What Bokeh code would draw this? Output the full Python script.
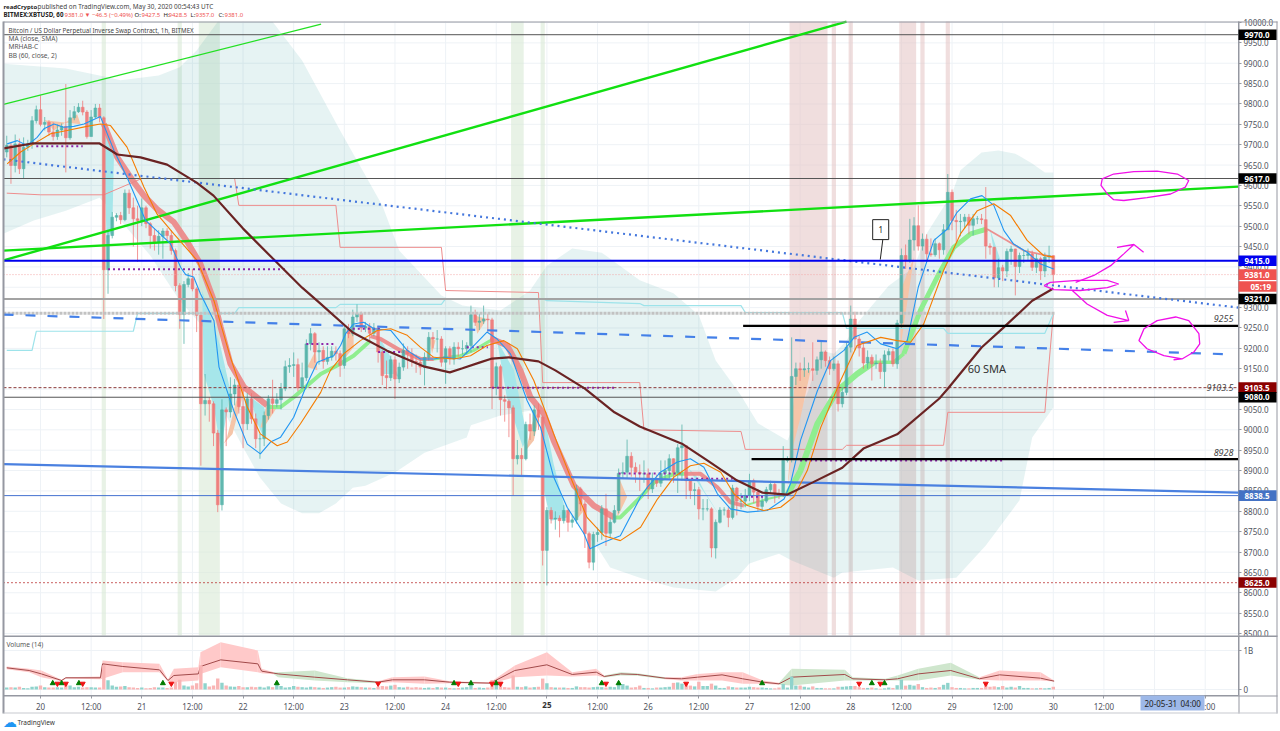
from bokeh.plotting import figure
from bokeh.models import Range1d, FixedTicker, Label, BoxAnnotation, NumeralTickFormatter, LinearAxis
from bokeh.core.properties import value
from bokeh.embed import file_html
from bokeh.resources import INLINE

FIRST_HOUR = -8
close = [
 9698,9649,9702,9641,9694,9702,9759,9786,9750,9755,
 9731,9720,9736,9745,9717,9766,9781,9792,9780,9720,
 9768,9790,9766,9393,9477,9522,9526,9516,9581,9545,
 9518,9514,9545,9506,9477,9462,9475,9488,9477,9440,
 9354,9283,9357,9371,9346,9281,9064,9072,9064,8992,
 8816,9049,9044,9088,9110,9057,9015,9076,9027,8978,
 8978,9035,9076,9065,9074,9101,9155,9158,9160,9103,
 9128,9211,9236,9191,9195,9168,9178,9193,9187,9158,
 9248,9236,9277,9285,9250,9254,9237,9250,9191,9133,
 9128,9172,9125,9154,9195,9187,9168,9166,9154,9178,
 9227,9223,9223,9166,9199,9174,9203,9199,9199,9207,
 9283,9264,9267,9272,9270,9103,9155,9074,9070,9054,
 8929,8937,8929,9013,8997,9049,9031,8704,8802,8781,
 8783,8777,8802,8773,8779,8855,8818,8745,8675,8743,
 8748,8806,8746,8773,8802,8893,8896,8935,8908,8896,
 8892,8892,8855,8877,8869,8893,8900,8929,8896,8956,
 8961,8875,8851,8853,8806,8806,8806,8710,8773,8803,
 8803,8785,8857,8825,8825,8839,8875,8847,8812,8825,
 8853,8866,8843,8841,8925,8929,9131,9150,9147,9150,
 9150,9146,9172,9191,9170,9150,9162,9064,9092,9203,
 9272,9223,9201,9164,9178,9162,9164,9143,9184,9192,
 9162,9262,9428,9416,9466,9501,9451,9468,9432,9430,
 9457,9442,9491,9583,9514,9511,9512,9522,9502,9518,
 9518,9516,9451,9448,9373,9398,9390,9438,9444,9401,
 9428,9428,9432,9399,9420,9390,9424,9427.5,9381]
high = [
 9722,9705,9725,9715,9718,9712,9770,9796,9821,9768,
 9760,9755,9750,9752,9849,9785,9795,9802,9808,9785,
 9785,9800,9800,9770,9490,9535,9532,9535,9590,9590,
 9570,9550,9568,9550,9510,9495,9490,9495,9495,9490,
 9445,9360,9365,9385,9395,9350,9285,9137,9080,9070,
 9000,9075,9055,9129,9125,9125,9100,9090,9090,9040,
 8990,9045,9085,9123,9090,9115,9170,9176,9190,9175,
 9165,9222,9250,9240,9215,9205,9205,9205,9205,9195,
 9255,9260,9295,9308,9290,9265,9262,9262,9255,9195,
 9170,9182,9180,9165,9212,9205,9200,9185,9175,9190,
 9240,9240,9245,9230,9205,9205,9215,9215,9220,9215,
 9305,9295,9285,9305,9285,9275,9165,9160,9085,9075,
 9060,8975,8955,9020,9040,9060,9065,9035,8810,8810,
 8800,8790,8815,8805,8790,8865,8860,8825,8750,8750,
 8760,8815,8843,8785,8815,8905,8920,8976,8945,8920,
 8915,8925,8905,8895,8890,8925,8925,8940,8930,8965,
 9013,8960,8880,8870,8860,8830,8830,8810,8780,8810,
 8810,8810,8865,8860,8845,8855,8892,8880,8855,8835,
 8860,8875,8870,8855,8960,8935,9227,9165,9165,9178,
 9165,9215,9180,9219,9195,9180,9180,9170,9105,9215,
 9305,9290,9230,9215,9195,9185,9185,9175,9195,9200,
 9200,9270,9445,9455,9518,9522,9551,9482,9480,9470,
 9470,9460,9505,9628,9590,9540,9530,9530,9530,9530,
 9525,9530,9596,9458,9450,9420,9405,9445,9452,9445,
 9435,9440,9445,9440,9432,9425,9435,9452,9428.5]
low = [
 9669,9604,9632,9628,9616,9685,9690,9752,9745,9735,
 9722,9710,9712,9722,9632,9712,9760,9778,9772,9715,
 9720,9765,9755,9272,9334,9470,9512,9505,9512,9530,
 9450,9412,9500,9495,9445,9440,9430,9420,9465,9430,
 9340,9248,9211,9350,9340,9240,8912,9035,9020,8960,
 8798,8802,8960,9030,9060,9040,8955,9000,9015,8955,
 8929,8960,9025,9040,9055,9050,9095,9140,9130,9095,
 9100,9120,9195,9165,9160,9150,9160,9170,9170,9130,
 9150,9225,9230,9265,9240,9240,9215,9230,9165,9110,
 9100,9120,9076,9115,9145,9150,9155,9140,9135,9109,
 9170,9200,9190,9155,9113,9160,9160,9180,9185,9185,
 9190,9255,9245,9260,9240,9051,9085,9035,9020,8982,
 8839,8915,8888,8925,8975,8985,9000,8667,8618,8770,
 8755,8736,8770,8750,8760,8770,8800,8710,8660,8655,
 8725,8730,8715,8735,8770,8795,8880,8880,8885,8870,
 8850,8870,8830,8845,8860,8860,8880,8880,8870,8845,
 8875,8830,8830,8815,8780,8778,8800,8687,8684,8770,
 8790,8761,8780,8790,8805,8810,8825,8820,8800,8800,
 8820,8845,8820,8830,8835,8920,8920,9110,9120,9130,
 9140,9120,9135,9150,9155,9135,9145,9045,9055,9085,
 9190,9195,9180,9150,9150,9121,9150,9125,9105,9170,
 9155,9150,9250,9395,9410,9440,9440,9440,9415,9425,
 9425,9420,9430,9495,9490,9460,9475,9495,9480,9477,
 9505,9505,9420,9430,9350,9350,9365,9375,9405,9330,
 9385,9410,9415,9390,9385,9368,9375,9410,9357]
volume = [
 .05,.06,.05,.07,.04,.03,.07,.08,.1,.06,
 .05,.05,.06,.05,.14,.1,.06,.07,.05,.06,
 .06,.05,.05,.62,.24,.1,.07,.08,.09,.06,
 .05,.04,.05,.03,.04,.06,.05,.05,.04,.05,
 .2,.25,.1,.08,.1,.16,.62,.16,.08,.1,
 .28,.17,.1,.08,.07,.09,.06,.06,.07,.06,
 .07,.05,.08,.06,.12,.09,.05,.06,.09,.07,
 .06,.05,.07,.06,.05,.04,.05,.06,.07,.05,
 .05,.06,.08,.07,.06,.05,.05,.04,.07,.09,
 .08,.1,.12,.06,.05,.07,.05,.06,.05,.04,
 .05,.04,.06,.05,.05,.04,.03,.04,.05,.06,
 .2,.04,.05,.04,.05,.24,.18,.2,.06,.05,
 .36,.07,.06,.08,.05,.06,.07,.28,.16,.06,
 .05,.05,.05,.04,.04,.08,.06,.06,.05,.06,
 .07,.06,.05,.07,.06,.14,.14,.1,.05,.06,
 .1,.04,.04,.03,.05,.05,.06,.07,.17,.18,
 .15,.12,.1,.08,.2,.09,.09,.15,.1,.04,
 .04,.08,.06,.05,.05,.05,.07,.06,.05,.05,
 .04,.03,.03,.05,.14,.05,.33,.1,.1,.07,
 .05,.08,.04,.04,.03,.03,.03,.07,.07,.08,
 .09,.09,.06,.04,.04,.05,.03,.02,.03,.05,
 .04,.11,.25,.1,.12,.1,.14,.06,.04,.05,
 .04,.06,.12,.17,.06,.04,.04,.03,.03,.04,
 .04,.04,.14,.07,.08,.06,.09,.05,.07,.05,
 .09,.04,.04,.03,.03,.04,.03,.04,.07]

blue_h = [-7.9,-5.5,-3.2,-0.8,0.8,3.2,5.5,7.9,10.3,14.2,17.4,20.5,24.9,30.8,33.2,34.4,36.3,37.9,41.1,42.3,45.8,49,52.1,54.5,56.9,60,63.2,65.6,69.5,71.1,72.3,74.2,76.6,79,83,86.9,90,93.2,95.6,99.5,102.7,105.8,108.2,111.4,115.3,118.5,121.6,124.8,128.8,130.2,133.5,137.4,142.2,143.8,146.9,150.9,154,157.2,160.4,163.5,167.5,172.2,176.2,177.7,180.1,184.1,187.2,190.4,192.8,195.9,199.1,203,205.4,208,211.7,214.9,217.2,220.4,223.1,225.9,228.3,230.6,233.8,237,240.1]
blue_p = [9702,9710,9698,9718,9739,9751,9743,9745,9751,9769,9686,9620,9514,9457,9399,9381,9375,9334,9268,9154,9047,8965,8941,8970,8982,9031,9113,9166,9182,9207,9236,9260,9264,9248,9244,9195,9174,9174,9178,9174,9207,9240,9223,9186,9072,9006,8884,8810,8745,8708,8724,8740,8835,8859,8896,8921,8929,8908,8843,8806,8798,8802,8830,8867,8974,9096,9170,9195,9227,9240,9211,9199,9219,9350,9465,9493,9534,9567,9575,9551,9489,9456,9436,9407,9395]
orange_h = [-7.9,-4.7,-1.6,2.4,6.3,11,14.2,16.6,20.5,24.5,27.6,31.6,37.1,41.1,45,49,52.1,56.1,58.5,61.6,66.4,68.7,71.9,75.8,79.8,83,86.9,90,93.2,97.9,101.9,105.8,109.8,113,116.9,121.6,125.6,129.5,133.5,137.4,142.2,146.2,150.1,154,157.2,161.2,164.3,167.5,171.4,175.4,178.5,181.7,184.9,189.6,193.5,199.1,203,206.2,209.3,214,218,222,225.9,229.9,233.8,237.7,240.1]
orange_p = [9653,9682,9702,9727,9735,9745,9751,9747,9694,9596,9530,9481,9416,9317,9178,9056,8990,8961,8970,9015,9092,9146,9187,9219,9244,9248,9232,9203,9178,9174,9182,9207,9219,9199,9121,8990,8884,8785,8740,8728,8761,8830,8884,8912,8918,8896,8843,8814,8802,8810,8835,8900,9006,9121,9207,9227,9219,9215,9260,9391,9481,9538,9555,9526,9465,9428,9424]
sma_h = [-8.7,-2,14,18.2,23.7,30,37,41,48,55,62,66,74,82,91,97,100,104,107,111,118,122,129,136,142,152,158,165,171,177,183,190,195,203,213,215,223,228,235,240]
sma_p = [9691,9703,9703,9676,9669,9651,9607,9575,9494,9421,9349,9313,9239,9195,9155,9141,9151,9165,9175,9178,9168,9146,9101,9043,9008,8966,8925,8876,8846,8841,8871,8907,8954,8989,9077,9101,9202,9249,9317,9347]

red_ribbon = [
 ([15,18.2,22.1,24.5,27.6,31.6,34.8,37.9,41.1,42.7,45,48.2,53.7],[9751,9669,9608,9575,9542,9510,9461,9407,9317,9252,9162,9105,9060]),
 ([78.2,80.6,85.3,90,93.2],[9230,9223,9195,9174,9174]),
 ([106.6,110.6,113.7,116.1,119.3,121.6,126.4,131.1,135.9],[9225,9207,9146,9080,9039,8974,8863,8814,8785]),
 ([152.5,156.4,160.4,163.5,166.7],[8892,8892,8859,8822,8814]),
 ([224.3,229,233,240.1],[9493,9465,9440,9424])]
green_ribbon = [
 ([53.7,56.9,60,66.4,70.3,74.2,78.2],[9056,9056,9080,9137,9158,9182,9219]),
 ([93.2,99.5,102.7,106.6],[9174,9182,9195,9219]),
 ([135.9,137.4,142.2,145.4,150.1,152.5],[8785,8785,8835,8871,8892,8892]),
 ([166.7,172.2,177],[8814,8830,8841]),
 ([177,180.1,184.1,188.8,193.5,197.5],[8841,8900,9015,9096,9137,9166]),
 ([197.5,202.2,204.6],[9166,9166,9187]),
 ([204.6,208.5,212.5,216.4,220.4,224.3],[9187,9293,9375,9448,9481,9493])]
cyan_fill = [
 ([15,17.4,17,15.8,15.8],[9751,9669,9490,9465,9391]),
 ([38.3,42.7,45,42.7,41.1,38.7],[9342,9203,9096,8949,9056,9137]),
 ([49.8,52.9,53.7,52.9,51.4],[9080,9056,9031,8982,9015]),
 ([79.8,83,84.9,83.7,81],[9236,9178,9129,9137,9137]),
 ([108.2,112.2,115.3,114.3,110.5],[9219,9146,8982,8957,9080]),
 ([119.3,121.6,124.8,120.9,119.3],[9039,8916,8785,8777,8851]),
 ([153.3,155.6,157.2,161.2,158],[8908,8884,8851,8785,8835]),
 ([225,227.5,227,225.9],[9493,9416,9375,9440])]
peach_fill = [
 ([-3.9,-0.8,0.8,-2],[9670,9710,9727,9695]),
 ([1,3.2,8.7,9.5],[9760,9735,9775,9750]),
 ([43.4,44.2,47,48.6,47.4,45.5],[8966,8982,9096,9105,9064,8990]),
 ([52.9,56.1,53.7,52.1],[9006,9056,9065,9006]),
 ([63.2,65.2,65.6],[9154,9195,9146]),
 ([72.7,74.2,74.2,72.3],[9244,9252,9203,9178]),
 ([92,93.6,92.8],[9227,9219,9187]),
 ([102.7,105.8,103.5],[9281,9272,9236]),
 ([116.9,118.5,116.9,115],[9031,9047,8974,8949]),
 ([127.2,128.8,126.8],[8851,8802,8777]),
 ([136.7,139,136.7],[8892,8835,8785]),
 ([163.5,165.1,164.3],[8851,8851,8802]),
 ([178.9,182.5,180.1,178.1,177],[9146,9146,9031,8949,8851]),
 ([203.8,207,203.8],[9342,9424,9203])]

bb_up_h = [-8.7,6,14,19,28,33,37,42,55,62,71,81,85,95,100,109,116,120,126,133,142,150,156,160,166,170,177,179,182,185,188,191,194,201,207,210,216,218,223,227,231,235,238,240]
bb_up_p = [9899,9887,9870,9858,9870,9890,9931,10002,10002,9907,9735,9551,9440,9330,9305,9293,9342,9403,9445,9435,9367,9335,9281,9170,9084,9016,8974,9023,9097,9195,9187,9219,9268,9354,9399,9482,9580,9637,9681,9686,9678,9654,9632,9632]
bb_lo_h = [-8.7,-1.6,6,14,17,26,33,40,43,48,52,57,62,66,70,74,77,84,91,101,102,109,116,120,121,126,132,135,142,150,160,165,168,175,178,188,190,202,208,217,224,232,235,240]
bb_lo_p = [9482,9514,9538,9570,9538,9428,9317,9236,9055,8957,8883,8819,8795,8795,8819,8858,8863,8895,8944,8981,9011,9035,9047,8998,8834,8785,8711,8662,8637,8613,8603,8637,8672,8696,8679,8637,8650,8662,8630,8637,8716,8827,8981,9055]

step_red_h = [-8,0,15,24,46,47,70,71,95,96,118,119,142,143,166,167,190,191,214,215,238,240]
step_red_p = [9581,9577,9577,9617,9617,9551,9551,9448,9448,9342,9337,9116,9116,9000,8996,8952,8952,8962,8962,9043,9043,9285]
step_cyan_h = [-8,-2,-1,22,23,46,47,70,71,95,96,119,120,142,143,166,167,190,191,214,215,238,240]
step_cyan_p = [9195,9195,9242,9242,9286,9286,9300,9300,9308,9308,9322,9322,9317,9310,9305,9305,9288,9288,9249,9249,9237,9237,9285]

green_bands = [(14.5,15.5),(32.5,33.5),(37.5,42.5),(111.5,114.5),(118.5,119.5)]
red_bands = [(177.5,186.5),(187.5,188.5),(191.5,192.5),(203.5,207.5),(208.5,209.5),(214.5,215.5)]

purple_runs = [(-1,10,9696),(16,58,9394),(63,70,9211),(74,81,9248),(80,86,9191),(101,106,9203),(107,136,9103),(137,152,8893),(153,164,8880),(166,172,8836),(180,228,8925)]
pink_strokes = [
 ([256.7,254.3,252.8,251.3,251.6,254.3,259.1,264.6,269.4,272.1,271.3,267.8,262.2,256.7],[9563,9565,9579,9600,9616,9628,9634,9635,9628,9612,9596,9579,9570,9563]),
 ([245.3,249.6,253.6,256.7,259.1,255.1],[9362,9379,9403,9432,9455,9448]),
 ([259.1,261.4],[9455,9436]),
 ([237.8,239.3,245.7,252.8,255.5,252.8,246.4,240.1,237.8],[9354,9362,9367,9367,9358,9349,9342,9344,9354]),
 ([244.5,248,252.8,257.9,254.3],[9342,9309,9281,9268,9264]),
 ([257.9,257.1],[9268,9293]),
 ([270.5,266.2,262.2,260.3,261.5,264.6,269,272.1,274.5,274.7,273.3,270.5,268.5],[9174,9182,9199,9219,9248,9268,9277,9268,9236,9211,9191,9174,9172])]

vol_h = [-8,-2.7,0.2,5,6,14.2,14.7,19.5,28.2,30.2,31.6,37.4,37.9,42.7,51.5,52.4,55.3,56.3,65,72.7,80,83.4,91,97,106.6,112.4,120,126,131.7,133.6,137.5,141.4,148,151.9,155.7,161.5,166.4,171.2,175,178,190.6,192.5,200.2,203.1,208,215.7,222.5,227.3,237,240.2]
vol_ma = [.556,.487,.40,.231,.30,.30,.658,.59,.504,.231,.359,.40,.59,.76,.658,.47,.419,.40,.316,.248,.188,.248,.248,.188,.163,.487,.633,.385,.445,.333,.40,.385,.29,.274,.316,.376,.274,.188,.145,.316,.385,.274,.248,.274,.40,.487,.274,.376,.29,.214]
vol_up = [.59,.53,.487,.248,.316,.334,.744,.70,.658,.257,.53,.573,.957,1.214,1.0,.53,.445,.445,.487,.291,.214,.316,.334,.214,.188,.616,.957,.445,.53,.359,.445,.419,.316,.316,.40,.445,.445,.231,.17,.53,.504,.316,.274,.359,.53,.684,.316,.487,.445,.231]
vol_lo = [.52,.445,.316,.214,.282,.265,.274,.445,.445,.205,.188,.231,.40,.573,.445,.419,.393,.316,.231,.188,.163,.188,.145,.163,.145,.316,.359,.333,.359,.308,.359,.35,.265,.231,.231,.231,.145,.145,.12,.103,.231,.231,.231,.231,.231,.359,.248,.231,.231,.205]
vol_band_kind = "rrrrrrrrrrrrrrrrggggrrrrrrrrrgggrrrrrrggggggggrrr"
up_marks = [2.9,5,9.1,29,56,98,102,108,133,137,171,197,200]
down_marks = [4,6,10,31,80,99,107,109,134,153,194,199,224]

day_ticks = {0:"20",24:"21",48:"22",72:"23",96:"24",120:"",144:"26",168:"27",192:"28",216:"29",240:"30",264:"31"}
noon_ticks = [12+24*i for i in range(12)]
price_ticks = list(range(8500,10001,50))

FONT = "Noto Sans"
# The frame fills the page; the panes are parts of it, so texts and tags beside them are not clipped.
XL, XR = -9.479, 293.84
YB, YT = 8259.4, 10054.0
X0, X1 = -8.77, 283.9
Y0, Y1 = 8495.1, 10002.4
AXIS_Y = 8347.8
VB, VT = -1.077, 17.667
V0, V1 = -.154, 1.359
GRID = "#eef2f6"
BORDER = "#9598a1"
hours = [FIRST_HOUR+i for i in range(len(close))]
opens = [9682]+close[:-1]
x_ticks = sorted(list(day_ticks)+noon_ticks)

p = figure(frame_width=1280, frame_height=731, x_range=Range1d(XL,XR), y_range=Range1d(YB,YT),
           output_backend="svg", toolbar_location=None, y_axis_location="right",
           min_border_left=0, min_border_right=0, min_border_top=0, min_border_bottom=0)
p.extra_y_ranges = {"vol":Range1d(VB,VT)}
p.grid.visible = False
p.outline_line_color = None

vaxis = LinearAxis(y_range_name="vol",fixed_location=X1,bounds=(V0,V1))
p.add_layout(vaxis,"right")
main_y = p.yaxis[0]
main_y.fixed_location = X1
main_y.bounds = (Y0,Y1)
main_y.ticker = FixedTicker(ticks=price_ticks)
main_y.formatter = NumeralTickFormatter(format="0.0")
vaxis.ticker = FixedTicker(ticks=[0,1])
vaxis.major_label_overrides = {0:"0",1:"1B"}
time_axis = p.xaxis[0]
time_axis.fixed_location = AXIS_Y
time_axis.bounds = (X0,X1)
time_axis.ticker = FixedTicker(ticks=x_ticks)
labels = {k:"12:00" for k in noon_ticks}
labels.update(day_ticks)
time_axis.major_label_overrides = labels
for ax in (main_y,vaxis,time_axis):
    ax.major_label_text_font = FONT
    ax.major_label_text_font_size = "8px"
    ax.major_label_text_color = "#50535e"
    ax.major_label_standoff = 2
    ax.major_tick_out = 3
    ax.major_tick_in = 0
    ax.minor_tick_line_color = None
    ax.axis_line_color = BORDER
    ax.major_tick_line_color = BORDER
time_axis.major_label_standoff = 3

p.segment(x_ticks,[Y0]*len(x_ticks),x_ticks,[Y1]*len(x_ticks),line_color=GRID,line_width=1)
p.segment([X0]*len(price_ticks),price_ticks,[X1]*len(price_ticks),price_ticks,line_color=GRID,line_width=1)
p.segment(x_ticks,[V0]*len(x_ticks),x_ticks,[V1]*len(x_ticks),line_color=GRID,line_width=1,y_range_name="vol")
p.segment([X0,X0],[0,1],[X1,X1],[0,1],line_color=GRID,line_width=1,y_range_name="vol")

for a,b in green_bands:
    p.quad(left=a,right=b,bottom=Y0,top=Y1,fill_color="#d8e9d5",fill_alpha=.6,line_color=None)
for a,b in red_bands:
    p.quad(left=a,right=b,bottom=Y0,top=Y1,fill_color="#e3c2c2",fill_alpha=.55,line_color=None)
p.patch(bb_up_h+bb_lo_h[::-1],bb_up_p+bb_lo_p[::-1],fill_color="#109090",fill_alpha=.105,line_color=None)

for xs,ys in cyan_fill:
    p.patch(xs,ys,fill_color="#a6e6ea",line_color=None)
for xs,ys in peach_fill:
    p.patch(xs,ys,fill_color="#f5c5a8",line_color=None)

p.line(step_red_h,step_red_p,line_color="#ee8d8d",line_width=1)
p.line(step_cyan_h,step_cyan_p,line_color="#9de3ea",line_width=1.2)
red_widths = [6,4,6,4,1.8]
green_widths = [4,3,4,2,6,3.5,5]
for (xs,ys),w in zip(red_ribbon,red_widths):
    p.line(xs,ys,line_color="#ec8585",line_width=w,line_alpha=.9)
for (xs,ys),w in zip(green_ribbon,green_widths):
    p.line(xs,ys,line_color="#8fee8f",line_width=w)

up = [i for i in range(len(close)) if close[i]>=opens[i]]
dn = [i for i in range(len(close)) if close[i]<opens[i]]
for idx,col in ((up,"#4fb0a6"),(dn,"#ef7474")):
    xs=[hours[i] for i in idx]
    p.segment(xs,[high[i] for i in idx],xs,[low[i] for i in idx],line_color=col,line_width=1,line_alpha=.75)
    p.vbar(x=xs,top=[max(opens[i],close[i]) for i in idx],bottom=[min(opens[i],close[i]) for i in idx],
           width=.66,fill_color=col,fill_alpha=.82,line_color=col,line_width=.5)

p.line([X0,240.5],[9286,9286],line_color="#c2c2c2",line_width=3,line_dash="3 1")
for a,b,val in purple_runs:
    p.line([a,b],[val,val],line_color="#8e24aa",line_width=2,line_dash="2 3")

HL = [(9970,"#555555",1,"solid"),(9617,"#555555",1,"solid"),(9321,"#a3a3a3",2,"solid"),(9080,"#555555",1,"solid"),
      (9103.5,"#8b3a3a",1,"3 2"),(8838.5,"#4472d0",1,"solid"),(8625,"#aa0000",1.3,"1 3"),(9381,"#f3a9a9",1,"1 2")]
for val,c,w,d in HL:
    p.line([X0,X1],[val,val],line_color=c,line_width=w,line_dash=d)

p.line([X0,66.5],[9799,9996],line_color="#22e022",line_width=1.2)
p.line([X0,191],[9416,10002],line_color="#11e011",line_width=2.4)
p.line([X0,X1],[9440,9597],line_color="#11e011",line_width=2.4)
p.line([X0,X1],[9664,9300],line_color="#4477dd",line_width=2.2,line_dash="2 4")
p.line([X0,283],[9283,9185],line_color="#4480e8",line_width=2.2,line_dash="10 12")
p.line([X0,X1],[8916,8846],line_color="#4a80e0",line_width=2.2)

p.line(blue_h,blue_p,line_color="#2196f3",line_width=1.1)
p.line(orange_h,orange_p,line_color="#f57c00",line_width=1.1)
p.line(sma_h,sma_p,line_color="#6a2323",line_width=2.2)
p.line([X0,X1],[9415,9415],line_color="#0000ee",line_width=2)
p.line([166.5,X1],[9255,9255],line_color="#000000",line_width=2.2)
p.line([168.5,X1],[8928,8928],line_color="#000000",line_width=2.2)

for xs,ys in pink_strokes:
    p.line(xs,ys,line_color="#f010e8",line_width=1.3)

p.segment([199.6],[9467],[199],[9418],line_color="#222222",line_width=1)
p.quad(left=[197.2],right=[201],bottom=[9467],top=[9516],fill_color="#ffffff",line_color="#222222",line_width=1)
p.text([199.1],[9491],text=["1"],text_font=value(FONT),text_font_size="8px",text_align="center",text_baseline="middle",text_color="#222222")
p.text([219.7],[9151],text=["60 SMA"],text_font=value(FONT),text_font_size="11px",text_baseline="middle",text_color="#333333")
for val,t in ((9273,"9255"),(8944,"8928"),(9104,"9103.5")):
    p.text([282.7],[val],text=[t],text_font=value(FONT),text_font_size="9px",text_font_style="italic",text_align="right",text_baseline="middle",text_color="#444444")

for i in range(len(vol_h)-1):
    p.varea(x=vol_h[i:i+2],y1=vol_up[i:i+2],y2=vol_lo[i:i+2],y_range_name="vol",
            fill_color="#ffc9c9" if vol_band_kind[i]=="r" else "#cfe6cd",fill_alpha=1)
p.line(vol_h,vol_ma,line_color="#a14a4a",line_width=1,y_range_name="vol")
for idx,col in ((up,"#8fd3cc"),(dn,"#f9b5b5")):
    p.vbar(x=[hours[i] for i in idx],top=[volume[i] for i in idx],bottom=0,width=.8,fill_color=col,line_color=None,y_range_name="vol")
p.scatter(up_marks,[.16]*len(up_marks),marker="triangle",size=5,fill_color="#007c00",line_color="#007c00",y_range_name="vol")
p.scatter(down_marks,[.15]*len(down_marks),marker="inverted_triangle",size=5,fill_color="#ee1111",line_color="#ee1111",y_range_name="vol")

def rule(l,t,r,b,c=BORDER):
    p.add_layout(BoxAnnotation(left=l,right=r,top=t,bottom=b,left_units="canvas",right_units="canvas",top_units="canvas",bottom_units="canvas",
                               fill_color=c,fill_alpha=1,line_color=None))
def canvas_label(x,y,text,color="#555555",size="6.6px",style="normal"):
    p.add_layout(Label(x=x,y=y,x_units="canvas",y_units="canvas",text=text,text_color=color,text_font=FONT,
                       text_font_size=size,text_font_style=style,text_baseline="middle"))

rule(3,21,1277,22)
rule(2,21,4,713)
rule(1238,21,1239,713)
rule(1276,21,1277,713)
rule(3,635,1277,636.5)
rule(3,695,1277,696)
rule(3,712,1277,713,"#c8cad0")

TAGS = [(9970,"9970.0","#000000"),(9617,"9617.0","#000000"),(9415,"9415.0","#0000ee"),(9381,"9381.0","#ef5350"),
        (9352,"05:19","#ef5350"),(9321,"9321.0","#000000"),(9103.5,"9103.5","#8b0000"),(9080,"9080.0","#000000"),
        (8838.5,"8838.5","#4472c4"),(8625,"8625.0","#8b0000")]
for val,t,c in TAGS:
    p.add_layout(BoxAnnotation(left=1238,right=1276,left_units="canvas",right_units="canvas",bottom=val-13,top=val+13,
                               fill_color=c,fill_alpha=1,line_color=None))
    p.add_layout(Label(x=1244 if ":" not in t else 1250,x_units="canvas",y=val,text=t,text_color="#ffffff",text_font=FONT,
                       text_font_size="8px",text_font_style="bold",text_baseline="middle"))

canvas_label(3,6,"readCrypto",color="#222222",size="6px",style="bold")
canvas_label(37,6,"published on TradingView.com, May 30, 2020 00:54:43 UTC",color="#444444",size="6.4px")
canvas_label(3,14,"BITMEX:XBTUSD, 60",color="#222222",size="6.2px",style="bold")
canvas_label(64,14,"9381.0",color="#ef5350",size="6px")
canvas_label(84,14,"▼ −46.5 (−0.49%)",color="#ef5350",size="6px")
for x,t,c in ((134,"O:","#222222"),(141,"9427.5","#ef5350"),(163,"H:","#222222"),(168,"9428.5","#ef5350"),
              (190,"L:","#222222"),(195,"9357.0","#ef5350"),(218,"C:","#222222"),(224,"9381.0","#ef5350")):
    canvas_label(x,14,t,color=c,size="6px")
canvas_label(8,30,"Bitcoin / US Dollar Perpetual Inverse Swap Contract, 1h, BITMEX",color="#444444",size="6.2px")
canvas_label(8,38,"MA (close, SMA)")
canvas_label(8,46,"MRHAB-C")
canvas_label(8,55,"BB (60, close, 2)")
canvas_label(6,644,"Volume (14)")

p.add_layout(Label(x=120,x_units="data",y=704,y_units="canvas",text="25",text_font=FONT,text_font_size="8px",text_font_style="bold",
                   text_color="#333333",text_align="center",text_baseline="middle"))
rule(1140,695,1204,710,"#9db8e8")
canvas_label(1144,703,"20-05-31",color="#222222",size="8px")
canvas_label(1180,703,"04:00",color="#222222",size="8px")
canvas_label(2,721,"☁",color="#2196f3",size="14px")
canvas_label(17,722,"TradingView",color="#333333",size="6.5px")

open("out.html","w").write(file_html(p,INLINE))
